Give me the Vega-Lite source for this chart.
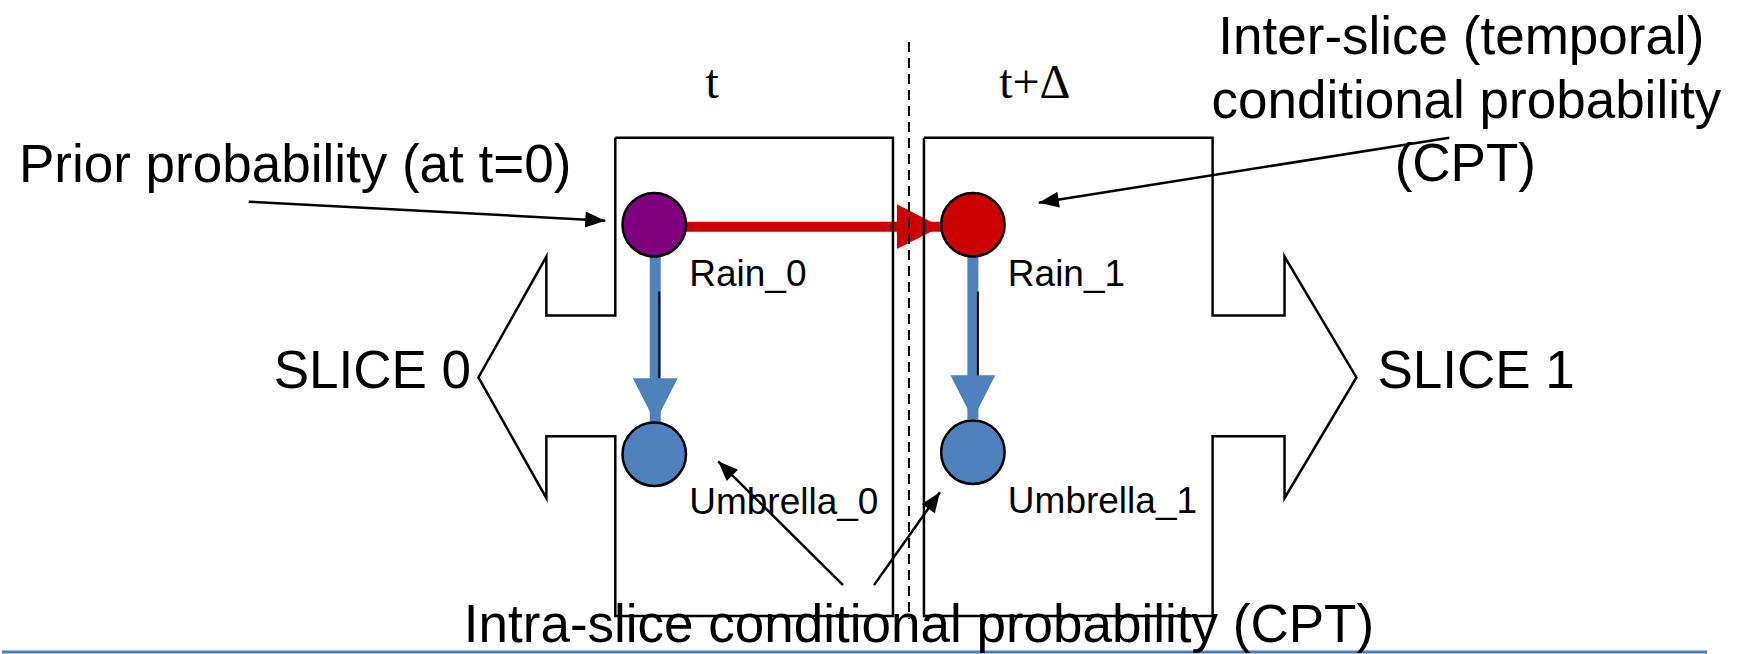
{
  "$schema": "https://vega.github.io/schema/vega-lite/v6.json",
  "width": 1742,
  "height": 654,
  "autosize": {"type": "fit", "contains": "padding"},
  "padding": 0,
  "background": "white",
  "config": {"view": {"stroke": null}},
  "datasets": {
    "shapes": [
      {"slice": "SLICE 0", "i": 0, "x": 614, "y": 138},
      {"slice": "SLICE 0", "i": 1, "x": 892, "y": 138},
      {"slice": "SLICE 0", "i": 2, "x": 892, "y": 617},
      {"slice": "SLICE 0", "i": 3, "x": 614, "y": 617},
      {"slice": "SLICE 0", "i": 4, "x": 614, "y": 437},
      {"slice": "SLICE 0", "i": 5, "x": 545, "y": 437},
      {"slice": "SLICE 0", "i": 6, "x": 545, "y": 499},
      {"slice": "SLICE 0", "i": 7, "x": 477, "y": 378},
      {"slice": "SLICE 0", "i": 8, "x": 545, "y": 257},
      {"slice": "SLICE 0", "i": 9, "x": 545, "y": 316},
      {"slice": "SLICE 0", "i": 10, "x": 614, "y": 316},
      {"slice": "SLICE 0", "i": 11, "x": 614, "y": 138},
      {"slice": "SLICE 1", "i": 0, "x": 923, "y": 138},
      {"slice": "SLICE 1", "i": 1, "x": 1212, "y": 138},
      {"slice": "SLICE 1", "i": 2, "x": 1212, "y": 316},
      {"slice": "SLICE 1", "i": 3, "x": 1284, "y": 316},
      {"slice": "SLICE 1", "i": 4, "x": 1284, "y": 257},
      {"slice": "SLICE 1", "i": 5, "x": 1356, "y": 378},
      {"slice": "SLICE 1", "i": 6, "x": 1284, "y": 499},
      {"slice": "SLICE 1", "i": 7, "x": 1284, "y": 437},
      {"slice": "SLICE 1", "i": 8, "x": 1212, "y": 437},
      {"slice": "SLICE 1", "i": 9, "x": 1212, "y": 617},
      {"slice": "SLICE 1", "i": 10, "x": 923, "y": 617},
      {"slice": "SLICE 1", "i": 11, "x": 923, "y": 138}
    ],
    "arrows": [
      {"kind": "thin", "name": "prior", "x": 247, "y": 202, "x2": 604, "y2": 221},
      {"kind": "thin", "name": "inter", "x": 1449, "y": 138, "x2": 1038, "y2": 203},
      {"kind": "thin", "name": "intra0", "x": 842, "y": 586, "x2": 717, "y2": 462},
      {"kind": "thin", "name": "intra1", "x": 873, "y": 586, "x2": 939, "y2": 493},
      {"kind": "temporal", "name": "Rain_0 to Rain_1", "x": 684, "y": 227, "x2": 940, "y2": 227},
      {"kind": "causal", "name": "Rain_0 to Umbrella_0", "x": 654, "y": 255, "x2": 654, "y2": 423},
      {"kind": "causal", "name": "Rain_1 to Umbrella_1", "x": 972, "y": 255, "x2": 972, "y2": 420}
    ],
    "edges": [
      {"x": 658, "y": 292, "y2": 381},
      {"x": 977, "y": 292, "y2": 381}
    ],
    "nodes": [
      {"node": "Rain_0", "x": 653, "y": 225},
      {"node": "Rain_1", "x": 972, "y": 225},
      {"node": "Umbrella_0", "x": 653, "y": 455},
      {"node": "Umbrella_1", "x": 972, "y": 453}
    ],
    "nodelabels": [
      {"label": "Rain_0", "x": 688, "y": 286},
      {"label": "Rain_1", "x": 1007, "y": 286},
      {"label": "Umbrella_0", "x": 688, "y": 515},
      {"label": "Umbrella_1", "x": 1007, "y": 514}
    ],
    "leftnotes": [
      {"label": "Prior probability (at t=0)", "x": 17, "y": 182},
      {"label": "SLICE 0", "x": 272, "y": 389},
      {"label": "SLICE 1", "x": 1377, "y": 389}
    ],
    "centernotes": [
      {"label": "Inter-slice (temporal)", "x": 1461, "y": 54},
      {"label": "conditional probability", "x": 1466, "y": 118},
      {"label": "(CPT)", "x": 1465, "y": 181},
      {"label": "Intra-slice conditional probability (CPT)", "x": 918, "y": 643}
    ],
    "times": [
      {"label": "t", "x": 711, "y": 98},
      {"label": "t+Δ", "x": 1034, "y": 98}
    ]
  },
  "encoding": {
    "x": {"field": "x", "type": "quantitative", "axis": null, "scale": {"domain": [0, 1742], "nice": false, "zero": false}},
    "y": {"field": "y", "type": "quantitative", "axis": null, "scale": {"domain": [654, 0], "nice": false, "zero": false}}
  },
  "layer": [
    {
      "data": {"name": "arrows"},
      "transform": [{"filter": "datum.kind === 'thin'"}],
      "mark": {"type": "rule", "color": "black", "strokeWidth": 2.5},
      "encoding": {"x2": {"field": "x2"}, "y2": {"field": "y2"}}
    },
    {
      "data": {"name": "arrows"},
      "transform": [{"filter": "datum.kind !== 'thin'"}],
      "mark": {"type": "rule", "strokeCap": "butt"},
      "encoding": {
        "x2": {"field": "x2"},
        "y2": {"field": "y2"},
        "color": {"field": "kind", "type": "nominal", "legend": null, "scale": {"domain": ["temporal", "causal"], "range": ["#CC0000", "#4F81BD"]}},
        "strokeWidth": {"field": "kind", "type": "nominal", "legend": null, "scale": {"domain": ["temporal", "causal"], "range": [10, 11]}}
      }
    },
    {
      "data": {"name": "edges"},
      "mark": {"type": "rule", "color": "black", "strokeWidth": 2},
      "encoding": {"y2": {"field": "y2"}}
    },
    {
      "data": {"name": "arrows"},
      "transform": [
        {"filter": "datum.kind === 'thin'"},
        {"calculate": "atan2(datum.x2 - datum.x, datum.y - datum.y2) * 180 / PI", "as": "angle"}
      ],
      "mark": {"type": "point", "shape": "M0,0L-0.4,1L0.4,1Z", "filled": true, "size": 1600, "color": "black", "opacity": 1, "strokeWidth": 0},
      "encoding": {
        "x": {"field": "x2", "type": "quantitative", "axis": null, "scale": {"domain": [0, 1742], "nice": false, "zero": false}},
        "y": {"field": "y2", "type": "quantitative", "axis": null, "scale": {"domain": [654, 0], "nice": false, "zero": false}},
        "angle": {"field": "angle", "type": "quantitative", "scale": null}
      }
    },
    {
      "data": {"name": "arrows"},
      "transform": [
        {"filter": "datum.kind !== 'thin'"},
        {"calculate": "atan2(datum.x2 - datum.x, datum.y - datum.y2) * 180 / PI", "as": "angle"}
      ],
      "mark": {"type": "point", "shape": "M0,0L-0.51,1L0.51,1Z", "filled": true, "size": 7744, "opacity": 1, "strokeWidth": 0},
      "encoding": {
        "x": {"field": "x2", "type": "quantitative", "axis": null, "scale": {"domain": [0, 1742], "nice": false, "zero": false}},
        "y": {"field": "y2", "type": "quantitative", "axis": null, "scale": {"domain": [654, 0], "nice": false, "zero": false}},
        "angle": {"field": "angle", "type": "quantitative", "scale": null},
        "color": {"field": "kind", "type": "nominal", "legend": null, "scale": {"domain": ["temporal", "causal"], "range": ["#CC0000", "#4F81BD"]}}
      }
    },
    {
      "data": {"name": "shapes"},
      "mark": {"type": "line", "color": "black", "strokeWidth": 2.5, "strokeJoin": "miter"},
      "encoding": {
        "detail": {"field": "slice", "type": "nominal"},
        "order": {"field": "i", "type": "quantitative"}
      }
    },
    {
      "data": {"values": [{"guide": "time boundary", "x": 908, "y": 42, "y2": 620}]},
      "mark": {"type": "rule", "color": "black", "strokeWidth": 2, "strokeDash": [10, 6]},
      "encoding": {"y2": {"field": "y2"}}
    },
    {
      "data": {"values": [{"guide": "footer rule", "x": 0, "x2": 1707, "y": 653}]},
      "mark": {"type": "rule", "color": "#4A7EBB", "strokeWidth": 3},
      "encoding": {"x2": {"field": "x2"}}
    },
    {
      "data": {"name": "nodes"},
      "mark": {"type": "point", "shape": "circle", "filled": true, "size": 4030, "opacity": 1, "stroke": "black", "strokeWidth": 2.5},
      "encoding": {
        "fill": {"field": "node", "type": "nominal", "legend": null, "scale": {"domain": ["Rain_0", "Rain_1", "Umbrella_0", "Umbrella_1"], "range": ["#800080", "#CC0000", "#4F81BD", "#4F81BD"]}}
      }
    },
    {
      "data": {"name": "nodelabels"},
      "mark": {"type": "text", "align": "left", "baseline": "alphabetic", "font": "Liberation Sans", "fontSize": 37, "color": "black"},
      "encoding": {"text": {"field": "label"}}
    },
    {
      "data": {"name": "leftnotes"},
      "mark": {"type": "text", "align": "left", "baseline": "alphabetic", "font": "Liberation Sans", "fontSize": 53, "color": "black"},
      "encoding": {"text": {"field": "label"}}
    },
    {
      "data": {"name": "centernotes"},
      "mark": {"type": "text", "align": "center", "baseline": "alphabetic", "font": "Liberation Sans", "fontSize": 53, "color": "black"},
      "encoding": {"text": {"field": "label"}}
    },
    {
      "data": {"name": "times"},
      "mark": {"type": "text", "align": "center", "baseline": "alphabetic", "font": "Liberation Serif", "fontSize": 48, "color": "black"},
      "encoding": {"text": {"field": "label"}}
    }
  ]
}
